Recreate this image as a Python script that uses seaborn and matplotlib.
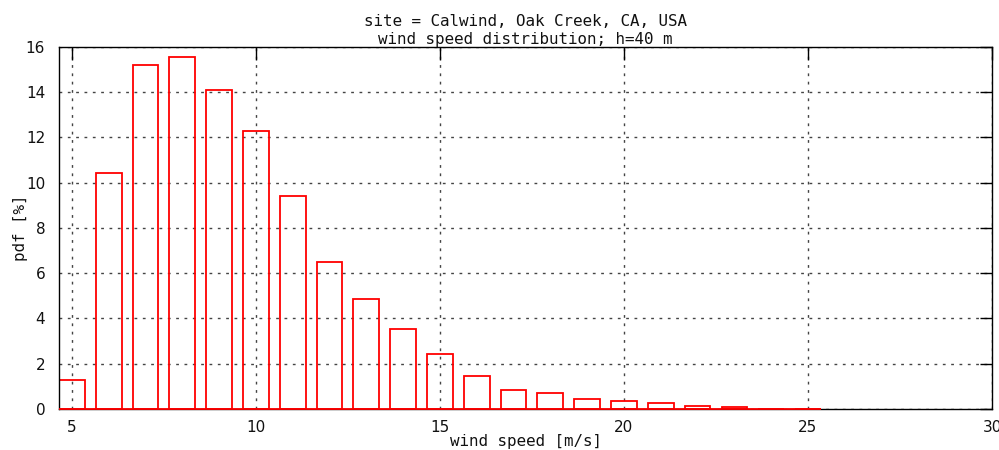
import matplotlib
matplotlib.use("Agg")
import matplotlib.pyplot as plt
import seaborn as sns
import pandas as pd

# ---- data ----
wind_speed = [5, 6, 7, 8, 9, 10, 11, 12, 13, 14, 15, 16, 17, 18, 19, 20, 21, 22, 23, 24, 25]
pdf_percent = [1.28, 10.45, 15.2, 15.55, 14.1, 12.27, 9.4, 6.5, 4.87, 3.55, 2.42,
               1.47, 0.85, 0.69, 0.43, 0.37, 0.28, 0.15, 0.08, 0.02, 0.01]
x_ticks = [5, 10, 15, 20, 25, 30]
y_ticks = [0, 2, 4, 6, 8, 10, 12, 14, 16]
title_text = "site = Calwind, Oak Creek, CA, USA\nwind speed distribution; h=40 m"
x_label = "wind speed [m/s]"
y_label = "pdf [%]"

bar_width = 0.7

df = pd.DataFrame({"speed": wind_speed, "pdf": pdf_percent})

sns.set_theme(style="white")
plt.rcParams["font.family"] = ["DejaVu Sans"]

fig = plt.figure(figsize=(9.99, 4.5), dpi=100)
ax = fig.add_axes([0.0591, 0.0911, 0.9339, 0.8045])

sns.barplot(data=df, x="speed", y="pdf", native_scale=True, width=bar_width,
            fill=False, color="#ff0000", linewidth=1.3, errorbar=None, ax=ax)

# red baseline spanning the boxes (as in the gnuplot output)
x_lo = min(wind_speed) - bar_width / 2
x_hi = max(wind_speed) + bar_width / 2
ax.hlines(0, x_lo, x_hi, colors="#ff0000", linewidth=1.3, zorder=3, clip_on=False)

ax.set_xlim(x_lo, 30)
ax.set_ylim(0, 16)
ax.set_xticks(x_ticks)
ax.set_yticks(y_ticks)
ax.set_xticklabels([str(t) for t in x_ticks])
ax.set_yticklabels([str(t) for t in y_ticks])

ax.set_axisbelow(True)
ax.grid(True, color="#444444", linestyle=(0, (2, 4)), linewidth=1.0)

for s in ax.spines.values():
    s.set_visible(True)
    s.set_color("black")
    s.set_linewidth(1.0)

ax.tick_params(axis="both", which="major", direction="in", length=9, width=1.0,
               color="black", top=True, right=True, labelsize=11, labelcolor="#111111")
ax.tick_params(axis="y", pad=10)
ax.tick_params(axis="x", pad=8)

mono = ["DejaVu Sans Mono"]
ax.set_title(title_text, family=mono, fontsize=11.4, pad=2, linespacing=1.3, color="#111111")
ax.set_xlabel(x_label, family=mono, fontsize=11.4, color="#111111", va="top")
ax.xaxis.set_label_coords(0.5, -0.068)
ax.set_ylabel(y_label, family=mono, fontsize=11.4, color="#111111")
ax.yaxis.set_label_coords(-0.033, 0.5)

fig.savefig("out.png", dpi=100, facecolor="white")
